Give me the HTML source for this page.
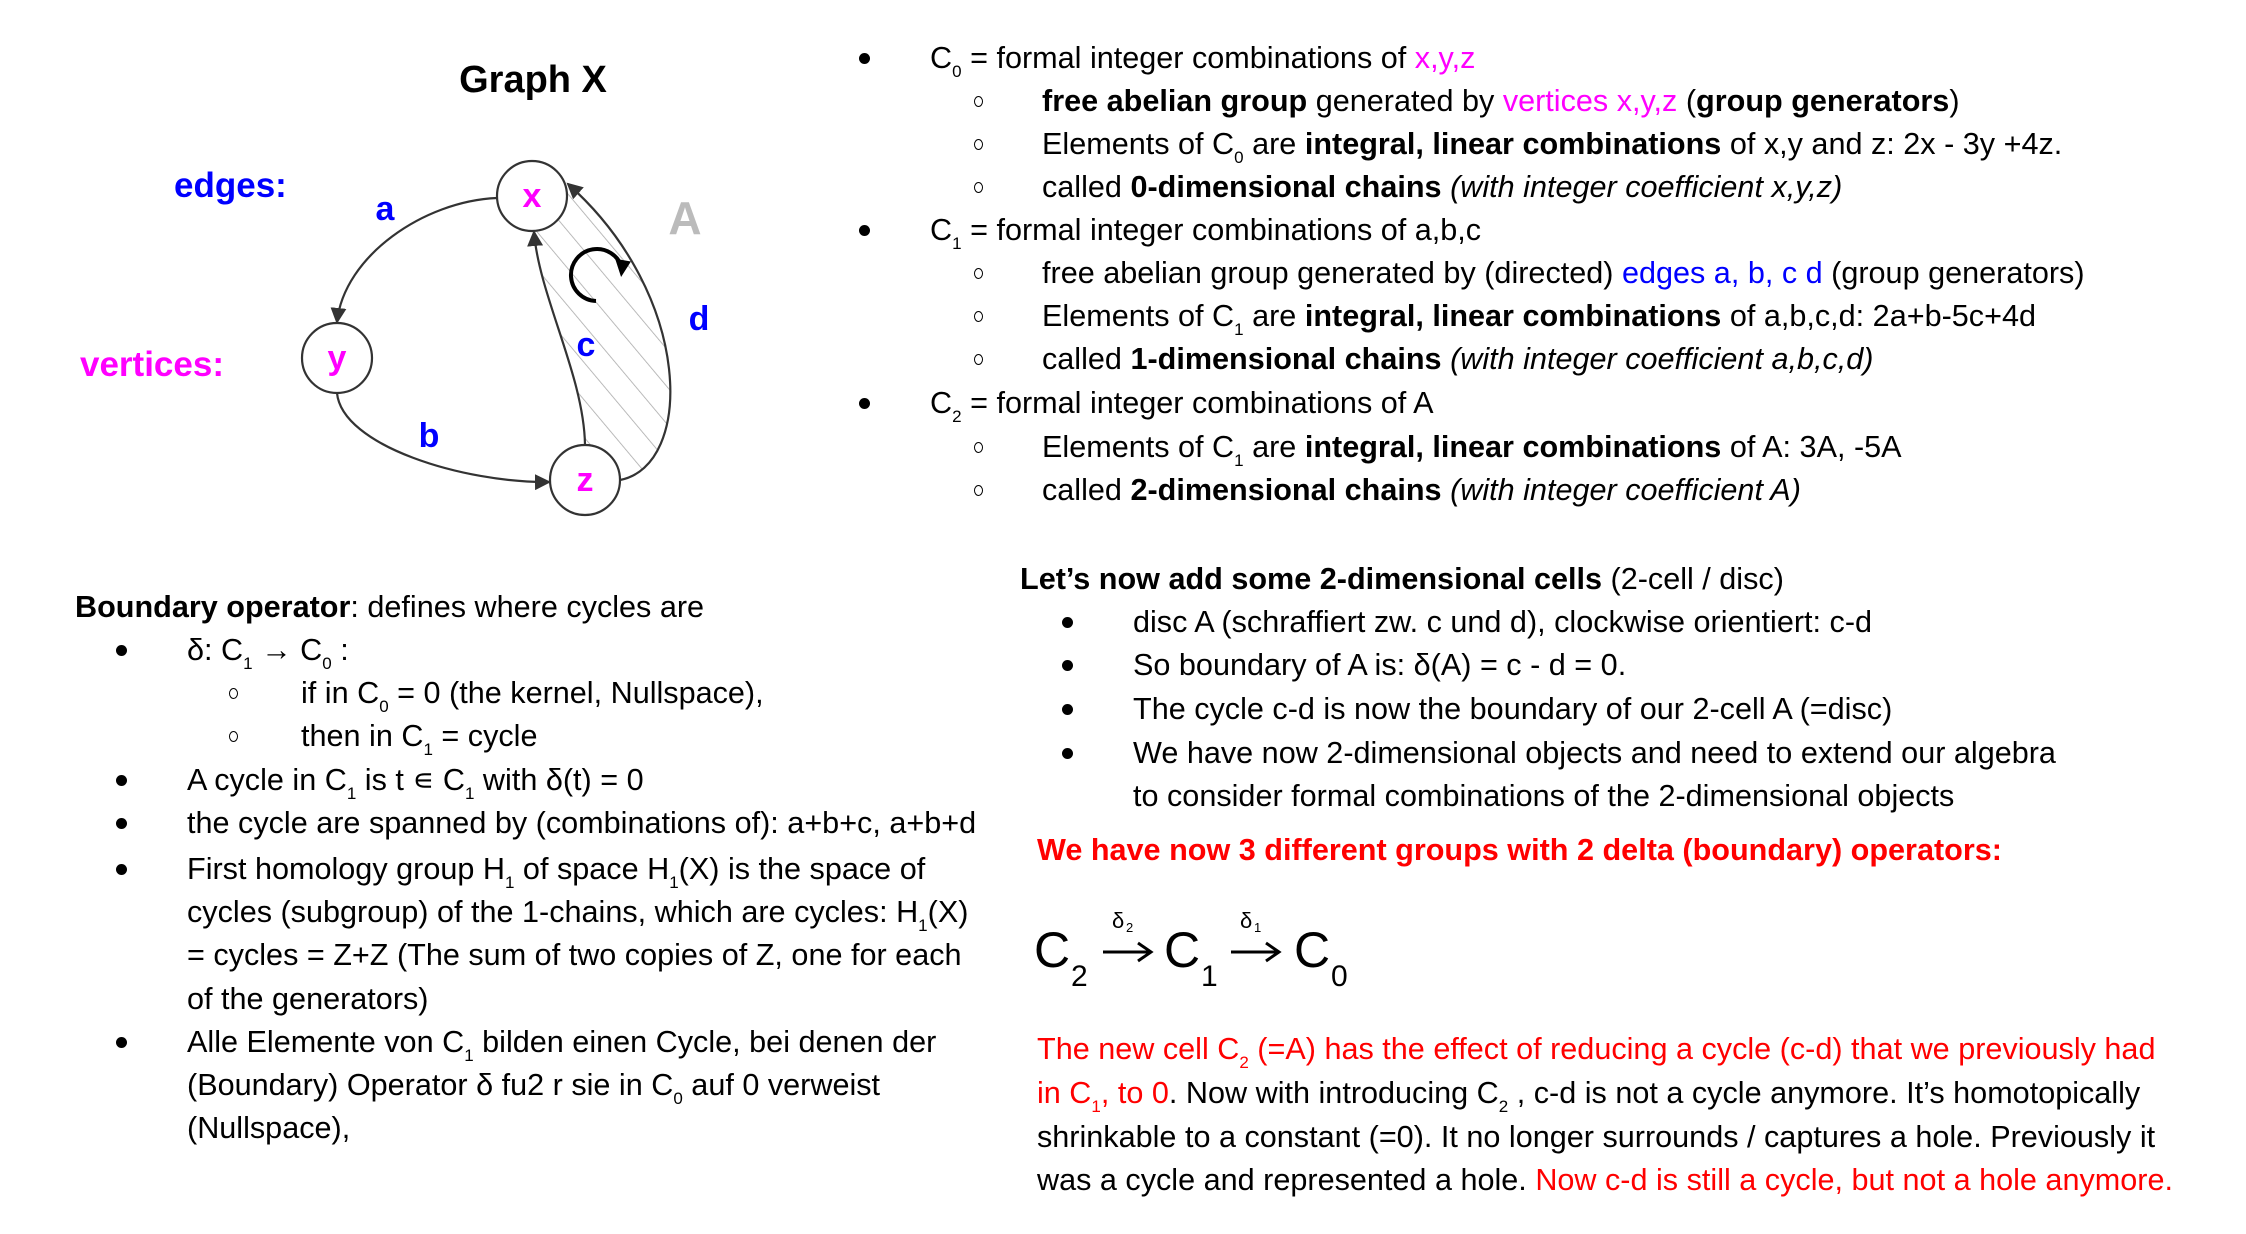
<!DOCTYPE html>
<html><head><meta charset="utf-8">
<style>
html,body{margin:0;padding:0;background:#fff;}
#page{position:relative;width:2246px;height:1234px;overflow:hidden;font-family:"Liberation Sans",Arial,sans-serif;font-size:30.6px;color:#000;}
.l{position:absolute;white-space:nowrap;line-height:44px;height:44px;}
sub{font-size:17px;vertical-align:-9px;line-height:0;}
.m{color:#ff00ff}.b{color:#0000ff}.r{color:#ff0000}
.bul{position:absolute;width:11px;height:11px;border-radius:50%;background:#000;}
.cir{position:absolute;width:9px;height:11px;border-radius:50%;border:1.6px solid #000;box-sizing:border-box;}
</style></head><body>
<div id="page">

<svg width="800" height="560" style="position:absolute;left:0;top:0">
<defs>
<pattern id="hatch" patternUnits="userSpaceOnUse" width="24" height="24" patternTransform="rotate(-40)">
<line x1="0" y1="0" x2="0" y2="24" stroke="#aaa" stroke-width="1.6"/>
</pattern>
<marker id="ah2" markerWidth="16" markerHeight="16" refX="14" refY="8" orient="auto" markerUnits="userSpaceOnUse">
<path d="M0,0 L16,8 L0,16 z" fill="#333"/>
</marker>
</defs>
<text x="174" y="197" font-family="Liberation Sans" font-weight="bold" font-size="35" fill="#0000ff">edges:</text>
<text x="80" y="376" font-family="Liberation Sans" font-weight="bold" font-size="35" fill="#ff00ff">vertices:</text>
<g transform="translate(-6,-4)">
<text x="539" y="96" text-anchor="middle" font-family="Liberation Sans" font-weight="bold" font-size="38">Graph X</text>
<path d="M591,449 C590,380 545,300 540,236 L572,190 C700,300 700,470 626,484 Z" fill="url(#hatch)"/>
<path d="M503,202 C430,205 350,260 343,326" fill="none" stroke="#333" stroke-width="2.2" marker-end="url(#ah2)"/>
<path d="M343,397 C348,450 470,487 555,486" fill="none" stroke="#333" stroke-width="2.2" marker-end="url(#ah2)"/>
<path d="M591,449 C590,380 545,300 540,236" fill="none" stroke="#333" stroke-width="2.2" marker-end="url(#ah2)"/>
<path d="M626,484 C700,470 700,300 574,188" fill="none" stroke="#333" stroke-width="2.2" marker-end="url(#ah2)"/>
<path d="M602,305 A26,26 0 1 1 628,272" fill="none" stroke="#000" stroke-width="4"/>
<path d="M620,264 L636,264 L629,281 z" fill="#000" transform="rotate(10 628 270)"/>
<circle cx="538" cy="200" r="35" fill="#fff" stroke="#333" stroke-width="2.2"/>
<circle cx="343" cy="362" r="35" fill="#fff" stroke="#333" stroke-width="2.2"/>
<circle cx="591" cy="484" r="35" fill="#fff" stroke="#333" stroke-width="2.2"/>
<g font-family="Liberation Sans" font-weight="bold" font-size="34" fill="#ff00ff" text-anchor="middle">
<text x="538" y="211">x</text><text x="343" y="373">y</text><text x="591" y="495">z</text></g>
<g font-family="Liberation Sans" font-weight="bold" font-size="34" fill="#0000ff" text-anchor="middle">
<text x="391" y="224">a</text>
<text x="435" y="451">b</text>
<text x="592" y="360">c</text>
<text x="705" y="334">d</text></g>
<text x="691" y="238" text-anchor="middle" font-family="Liberation Sans" font-weight="bold" font-size="46" fill="#bbb">A</text>
</g>
</svg>

<!-- Right column -->
<div class="bul" style="left:859px;top:53px"></div>
<div class="l" style="left:930px;top:36px">C<sub>0</sub> = formal integer combinations of <span class="m">x,y,z</span></div>
<div class="cir" style="left:974px;top:96px"></div>
<div class="l" style="left:1042px;top:79px"><b>free abelian group</b> generated by <span class="m">vertices x,y,z</span> (<b>group generators</b>)</div>
<div class="cir" style="left:974px;top:139px"></div>
<div class="l" style="left:1042px;top:122px">Elements of C<sub>0</sub> are <b>integral, linear combinations</b> of x,y and z: 2x - 3y +4z.</div>
<div class="cir" style="left:974px;top:182px"></div>
<div class="l" style="left:1042px;top:165px">called <b>0-dimensional chains</b> <i>(with integer coefficient x,y,z)</i></div>
<div class="bul" style="left:859px;top:225px"></div>
<div class="l" style="left:930px;top:208px">C<sub>1</sub> = formal integer combinations of a,b,c</div>
<div class="cir" style="left:974px;top:268px"></div>
<div class="l" style="left:1042px;top:251px">free abelian group generated by (directed) <span class="b">edges a, b, c d</span> (group generators)</div>
<div class="cir" style="left:974px;top:311px"></div>
<div class="l" style="left:1042px;top:294px">Elements of C<sub>1</sub> are <b>integral, linear combinations</b> of a,b,c,d: 2a+b-5c+4d</div>
<div class="cir" style="left:974px;top:354px"></div>
<div class="l" style="left:1042px;top:337px">called <b>1-dimensional chains</b> <i>(with integer coefficient a,b,c,d)</i></div>
<div class="bul" style="left:859px;top:398px"></div>
<div class="l" style="left:930px;top:381px">C<sub>2</sub> = formal integer combinations of A</div>
<div class="cir" style="left:974px;top:442px"></div>
<div class="l" style="left:1042px;top:425px">Elements of C<sub>1</sub> are <b>integral, linear combinations</b> of A: 3A, -5A</div>
<div class="cir" style="left:974px;top:485px"></div>
<div class="l" style="left:1042px;top:468px">called <b>2-dimensional chains</b> <i>(with integer coefficient A)</i></div>

<!-- Left lower -->
<div class="l" style="left:75px;top:585px"><b>Boundary operator</b>: defines where cycles are</div>
<div class="bul" style="left:116px;top:645px"></div>
<div class="l" style="left:187px;top:628px">δ: C<sub>1</sub> → C<sub>0</sub> :</div>
<div class="cir" style="left:229px;top:688px"></div>
<div class="l" style="left:301px;top:671px">if in C<sub>0</sub> = 0 (the kernel, Nullspace),</div>
<div class="cir" style="left:229px;top:731px"></div>
<div class="l" style="left:301px;top:714px">then in C<sub>1</sub> = cycle</div>
<div class="bul" style="left:116px;top:775px"></div>
<div class="l" style="left:187px;top:758px">A cycle in C<sub>1</sub> is t ∊ C<sub>1</sub> with δ(t) = 0</div>
<div class="bul" style="left:116px;top:818px"></div>
<div class="l" style="left:187px;top:801px">the cycle are spanned by (combinations of): a+b+c, a+b+d</div>
<div class="bul" style="left:116px;top:864px"></div>
<div class="l" style="left:187px;top:847px">First homology group H<sub>1</sub> of space H<sub>1</sub>(X) is the space of</div>
<div class="l" style="left:187px;top:890px">cycles (subgroup) of the 1-chains, which are cycles: H<sub>1</sub>(X)</div>
<div class="l" style="left:187px;top:933px">= cycles = Z+Z (The sum of two copies of Z, one for each</div>
<div class="l" style="left:187px;top:977px">of the generators)</div>
<div class="bul" style="left:116px;top:1037px"></div>
<div class="l" style="left:187px;top:1020px">Alle Elemente von C<sub>1</sub> bilden einen Cycle, bei denen der</div>
<div class="l" style="left:187px;top:1063px">(Boundary) Operator δ fu2 r sie in C<sub>0</sub> auf 0 verweist</div>
<div class="l" style="left:187px;top:1106px">(Nullspace),</div>

<!-- Right lower -->
<div class="l" style="left:1020px;top:557px"><b>Let’s now add some 2-dimensional cells</b> (2-cell / disc)</div>
<div class="bul" style="left:1062px;top:617px"></div>
<div class="l" style="left:1133px;top:600px">disc A (schraffiert zw. c und d), clockwise orientiert: c-d</div>
<div class="bul" style="left:1062px;top:660px"></div>
<div class="l" style="left:1133px;top:643px">So boundary of A is: δ(A) = c - d = 0.</div>
<div class="bul" style="left:1062px;top:704px"></div>
<div class="l" style="left:1133px;top:687px">The cycle c-d is now the boundary of our 2-cell A (=disc)</div>
<div class="bul" style="left:1062px;top:748px"></div>
<div class="l" style="left:1133px;top:731px">We have now 2-dimensional objects and need to extend our algebra</div>
<div class="l" style="left:1133px;top:774px">to consider formal combinations of the 2-dimensional objects</div>
<div class="l r" style="left:1037px;top:828px"><b>We have now 3 different groups with 2 delta (boundary) operators:</b></div>

<div style="position:absolute;left:0;top:0;width:1400px;height:1000px;">
<span style="position:absolute;left:1034px;top:922px;font-size:50px;line-height:56px">C</span>
<span style="position:absolute;left:1071px;top:960px;font-size:30px;line-height:34px">2</span>
<svg style="position:absolute;left:1100px;top:940px" width="60" height="24"><line x1="3" y1="12" x2="50" y2="12" stroke="#000" stroke-width="3"/><path d="M38,3 L51,12 L38,21" fill="none" stroke="#000" stroke-width="3"/></svg>
<span style="position:absolute;left:1112px;top:909px;font-size:22px;line-height:24px">δ</span>
<span style="position:absolute;left:1126px;top:921px;font-size:13px;line-height:14px">2</span>
<span style="position:absolute;left:1164px;top:922px;font-size:50px;line-height:56px">C</span>
<span style="position:absolute;left:1201px;top:960px;font-size:30px;line-height:34px">1</span>
<svg style="position:absolute;left:1228px;top:940px" width="60" height="24"><line x1="3" y1="12" x2="50" y2="12" stroke="#000" stroke-width="3"/><path d="M38,3 L51,12 L38,21" fill="none" stroke="#000" stroke-width="3"/></svg>
<span style="position:absolute;left:1240px;top:909px;font-size:22px;line-height:24px">δ</span>
<span style="position:absolute;left:1254px;top:921px;font-size:13px;line-height:14px">1</span>
<span style="position:absolute;left:1294px;top:922px;font-size:50px;line-height:56px">C</span>
<span style="position:absolute;left:1331px;top:960px;font-size:30px;line-height:34px">0</span>
</div>

<div class="l" style="left:1037px;top:1027px"><span class="r">The new cell C<sub>2</sub> (=A) has the effect of reducing a cycle (c-d) that we previously had</span></div>
<div class="l" style="left:1037px;top:1071px"><span class="r">in C<sub>1</sub>, to 0</span>. Now with introducing C<sub>2</sub> , c-d is not a cycle anymore. It’s homotopically</div>
<div class="l" style="left:1037px;top:1115px">shrinkable to a constant (=0). It no longer surrounds / captures a hole. Previously it</div>
<div class="l" style="left:1037px;top:1158px">was a cycle and represented a hole. <span class="r">Now c-d is still a cycle, but not a hole anymore.</span></div>
</div>
</body></html>
